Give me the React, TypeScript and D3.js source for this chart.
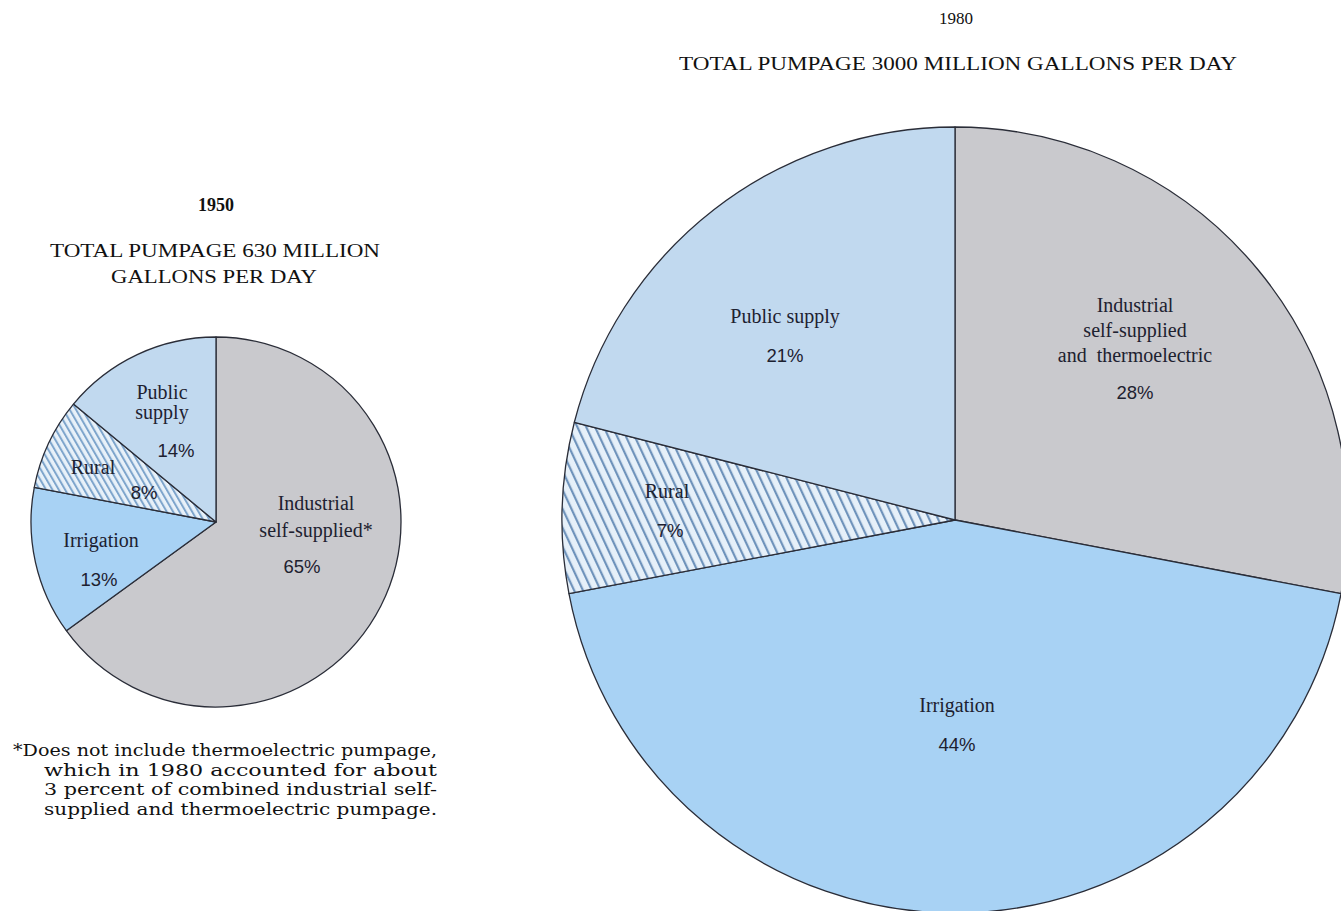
import * as d3 from 'd3'

// slice order runs clockwise from 12 o'clock
const categories = ['Industrial', 'Irrigation', 'Rural', 'Public supply']
const share1950 = [65, 13, 8, 14]
const share1980 = [28, 44, 7, 21]
const names1950 = [['Industrial', 'self-supplied*'], ['Irrigation'], ['Rural'], ['Public', 'supply']]
const names1980 = [['Industrial', 'self-supplied', 'and  thermoelectric'], ['Irrigation'], ['Rural'], ['Public supply']]
const footnoteLines = [
  '*Does not include thermoelectric pumpage,',
  'which in 1980 accounted for about',
  '3 percent of combined industrial self-',
  'supplied and thermoelectric pumpage.',
]

const W = 1341, H = 911
const SERIF = '"Liberation Serif", "Times New Roman", serif'
const WIDE_SERIF = '"DejaVu Serif", Georgia, serif'
const SANS = '"Liberation Sans", Arial, sans-serif'
const INK = '#1d2130'

const fills = ['#c9c9cd', '#a8d2f4', 'url(#hatch-rural)', '#c1d9ef']
const bigFills = ['#c9c9cd', '#a8d2f4', 'url(#hatch-rural-big)', '#c1d9ef']

type Lay = { name: [number, number]; gap: number; pct: [number, number] }

// label anchors relative to pie centre (px)
const lay1950: Lay[] = [
  { name: [100, -19], gap: 27, pct: [86, 45] },
  { name: [-115, 18], gap: 20, pct: [-117, 58] },
  { name: [-123, -55], gap: 20, pct: [-72, -29] },
  { name: [-54, -130], gap: 20, pct: [-40, -71] },
]
const lay1980: Lay[] = [
  { name: [180, -215], gap: 25, pct: [180, -127] },
  { name: [2, 185], gap: 25, pct: [2, 225] },
  { name: [-288, -29], gap: 25, pct: [-285, 11] },
  { name: [-170, -204], gap: 25, pct: [-170, -164] },
]

function Pie({ cx, cy, r, values, names, lay, fillSet }: {
  cx: number; cy: number; r: number; values: number[]; names: string[][]; lay: Lay[]; fillSet: string[]
}) {
  const pie = d3.pie<number>().sort(null).value(d => d)
  const arcs = pie(values)
  const arc = d3.arc<d3.PieArcDatum<number>>().innerRadius(0).outerRadius(r)
  return (
    <g transform={`translate(${cx},${cy})`}>
      {arcs.map((a, i) => (
        <path key={categories[i]} d={arc(a) ?? ''} fill={fillSet[i]}
          stroke="#2a2d38" strokeWidth={1.3} strokeLinejoin="round" />
      ))}
      {arcs.map((a, i) => {
        const l = lay[i]
        return (
          <g key={`lbl-${i}`} fill={INK}>
            {names[i].map((n, j) => (
              <text key={j} x={l.name[0]} y={l.name[1] + j * l.gap} dy="0.35em"
                textAnchor="middle" fontFamily={SERIF} fontSize={20}
                style={{ whiteSpace: 'pre' }}>{n}</text>
            ))}
            <text x={l.pct[0]} y={l.pct[1]} dy="0.35em" textAnchor="middle"
              fontFamily={SANS} fontSize={18.5}>{`${a.data}%`}</text>
          </g>
        )
      })}
    </g>
  )
}

export default function App() {
  return (
    <svg width={W} height={H} viewBox={`0 0 ${W} ${H}`}
      style={{ position: 'absolute', left: 0, top: 0, background: '#fff' }}>
      <defs>
        <pattern id="hatch-rural" patternUnits="userSpaceOnUse" width={5.5} height={10}
          patternTransform="rotate(-30)">
          <rect width={5.5} height={10} fill="#e8f1f9" />
          <rect width={2} height={10} fill="#7ea5cc" />
        </pattern>
        <pattern id="hatch-rural-big" patternUnits="userSpaceOnUse" width={8} height={10}
          patternTransform="rotate(-25)">
          <rect width={8} height={10} fill="#e6f0f9" />
          <rect width={2.2} height={10} fill="#6f93bb" />
        </pattern>
      </defs>

      {/* 1950 */}
      <g fill="#111" fontFamily={SERIF} textAnchor="middle">
        <text x={216} y={211} fontSize={18} fontWeight="bold">1950</text>
        <text x={215} y={257} fontSize={19} textLength={330} lengthAdjust="spacingAndGlyphs">TOTAL PUMPAGE 630 MILLION</text>
        <text x={214} y={283} fontSize={19} textLength={206} lengthAdjust="spacingAndGlyphs">GALLONS PER DAY</text>
      </g>
      <Pie cx={216} cy={522} r={185} values={share1950} names={names1950} lay={lay1950} fillSet={fills} />
      <g fill="#111" fontFamily={WIDE_SERIF} fontSize={17}>
        {footnoteLines.map((t, i) => (
          <text key={i} x={i === 0 ? 13 : 44} y={756 + i * 19.5}
            textLength={i === 0 ? 424 : 393} lengthAdjust="spacingAndGlyphs">{t}</text>
        ))}
      </g>

      {/* 1980 */}
      <g fill="#111" fontFamily={SERIF} textAnchor="middle">
        <text x={956} y={24} fontSize={17}>1980</text>
        <text x={958} y={70} fontSize={18} textLength={558} lengthAdjust="spacingAndGlyphs">TOTAL PUMPAGE 3000 MILLION GALLONS PER DAY</text>
      </g>
      <Pie cx={955} cy={520} r={393} values={share1980} names={names1980} lay={lay1980} fillSet={bigFills} />
    </svg>
  )
}
